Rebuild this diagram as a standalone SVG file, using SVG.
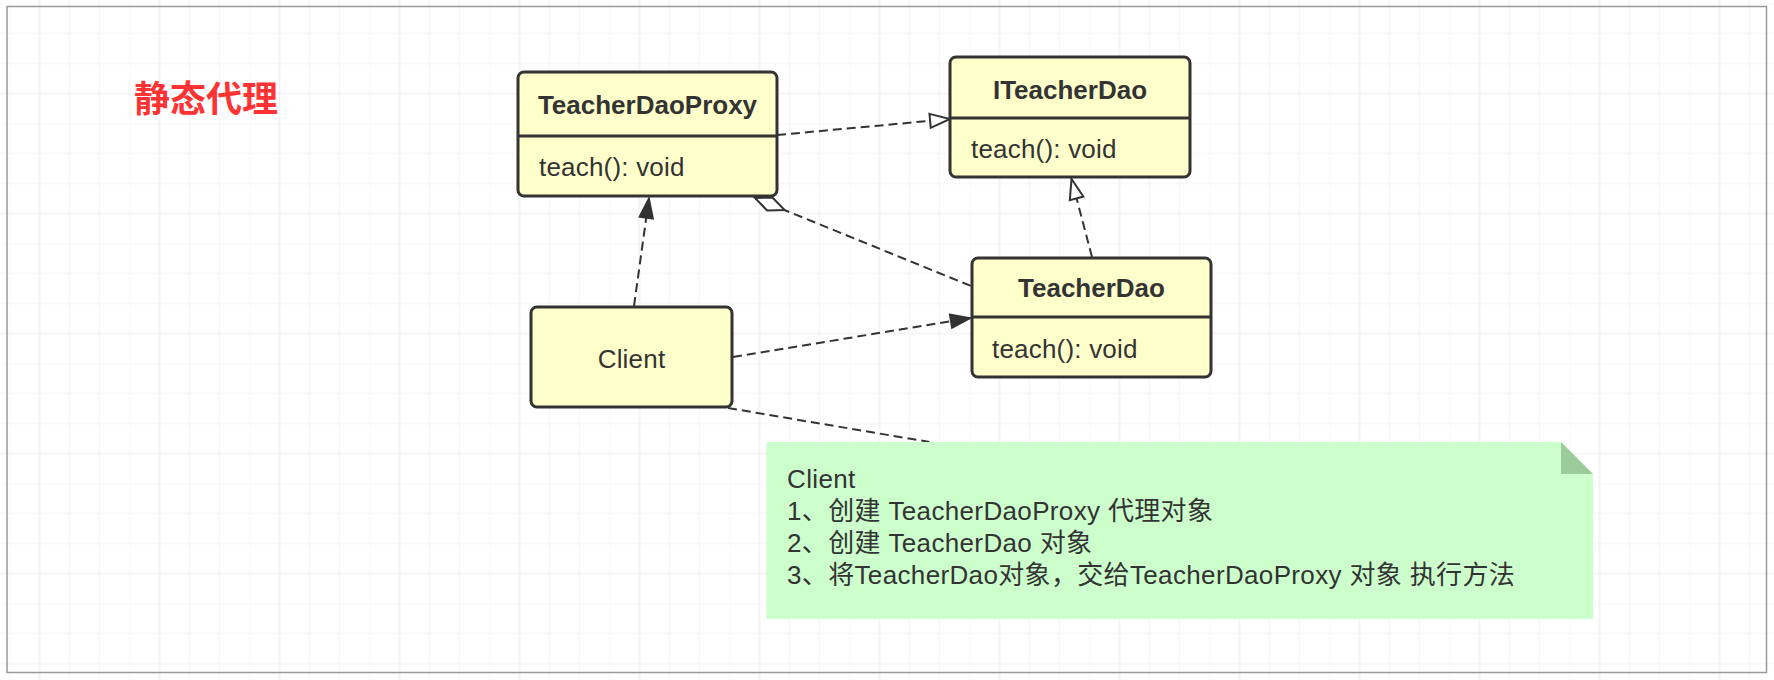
<svg xmlns="http://www.w3.org/2000/svg" width="1774" height="680" viewBox="0 0 1774 680">
  <style>
    .node { fill: #ffffcc; stroke: #333333; stroke-width: 3; }
    .div { stroke: #333333; stroke-width: 3; fill: none; }
    .title { font-family: "Liberation Sans", Arial, "Noto Sans CJK SC", sans-serif; font-size: 26px; font-weight: bold; fill: #333333; text-anchor: middle; }
    .body { font-family: "Liberation Sans", Arial, "Noto Sans CJK SC", sans-serif; font-size: 26px; fill: #333333; letter-spacing: 0.2px; }
    .edge { fill: none; stroke: #333333; stroke-width: 2; stroke-dasharray: 9 5; }
    .note-text { font-family: "Liberation Sans", Arial, "Noto Sans CJK SC", sans-serif; font-size: 26px; fill: #333333; letter-spacing: 0.35px; }
  </style>
  <defs>
    <pattern id="grid" patternUnits="userSpaceOnUse" x="9.5" y="3.5" width="120" height="120">
      <path d="M0,0 V120 M60,0 V120 M90,0 V120 M0,0 H120 M0,30 H120 M0,60 H120" stroke="#f4f4f4" stroke-width="1.2" fill="none"/>
      <path d="M30,0 V120 M0,90 H120" stroke="#ececec" stroke-width="1.2" fill="none"/>
    </pattern>
    <marker id="openTri" markerUnits="userSpaceOnUse" viewBox="-2 -2 24 18" refX="20" refY="7" markerWidth="24" markerHeight="18" orient="auto" overflow="visible">
      <path d="M0,0 L20,7 L0,14 Z" fill="#ffffff" stroke="#333333" stroke-width="2" stroke-linejoin="miter"/>
    </marker>
    <marker id="fillTri" markerUnits="userSpaceOnUse" viewBox="-2 -2 24 18" refX="20" refY="7" markerWidth="24" markerHeight="18" orient="auto" overflow="visible">
      <path d="M0,0 L20,7 L0,14 Z" fill="#333333" stroke="#333333" stroke-width="1.5"/>
    </marker>
    <marker id="diamond" markerUnits="userSpaceOnUse" viewBox="-2 -2 36 18" refX="0" refY="7" markerWidth="36" markerHeight="18" orient="auto" overflow="visible">
      <path d="M0,7 L16,0 L32,7 L16,14 Z" fill="#ffffff" stroke="#333333" stroke-width="2"/>
    </marker>
  </defs>

  <rect x="0" y="0" width="1774" height="680" fill="#ffffff"/>
  <rect x="0" y="0" width="1774" height="680" fill="url(#grid)"/>
  <rect x="7" y="6.5" width="1759.5" height="666" fill="none" stroke="#999999" stroke-width="1.5"/>

  <g id="title">
    <text x="134" y="112" font-family="'Noto Sans CJK SC', sans-serif" font-size="36" font-weight="bold" fill="#ff3333">静态代理</text>
  </g>

  <g id="connectors">
    <path class="edge" d="M777,135 L950,119" marker-end="url(#openTri)"/>
    <path class="edge" d="M1092,257 L1071.5,179" marker-end="url(#openTri)"/>
    <path class="edge" d="M634,306 L649,198" marker-end="url(#fillTri)"/>
    <path class="edge" d="M733,357 L970.5,318" marker-end="url(#fillTri)"/>
    <path class="edge" d="M755,198 L971,286" marker-start="url(#diamond)"/>
    <path class="edge" d="M728,408 L929.5,442"/>
  </g>

  <g id="TeacherDaoProxy">
    <rect class="node" x="518" y="72" width="259" height="124" rx="6"/>
    <line class="div" x1="518" y1="136" x2="777" y2="136"/>
    <text class="title" x="647.5" y="114">TeacherDaoProxy</text>
    <text class="body" x="539" y="176">teach(): void</text>
  </g>

  <g id="ITeacherDao">
    <rect class="node" x="950" y="57" width="240" height="120" rx="6"/>
    <line class="div" x1="950" y1="118" x2="1190" y2="118"/>
    <text class="title" x="1070" y="99">ITeacherDao</text>
    <text class="body" x="971" y="158">teach(): void</text>
  </g>

  <g id="TeacherDao">
    <rect class="node" x="972" y="258" width="239" height="119" rx="6"/>
    <line class="div" x1="972" y1="317" x2="1211" y2="317"/>
    <text class="title" x="1091.5" y="297">TeacherDao</text>
    <text class="body" x="992" y="358">teach(): void</text>
  </g>

  <g id="Client">
    <rect class="node" x="531" y="307" width="201" height="100" rx="6"/>
    <text class="body" x="631.5" y="368" text-anchor="middle">Client</text>
  </g>

  <g id="note">
    <path d="M766.5,442 H1561 L1593,474 V619 H766.5 Z" fill="#ccffcc"/>
    <path d="M1561,442 L1593,474 H1561 Z" fill="#9ccc9c"/>
    <text class="note-text" x="787" y="488">Client</text>
    <text class="note-text" x="787" y="520">1、创建 TeacherDaoProxy 代理对象</text>
    <text class="note-text" x="787" y="552">2、创建 TeacherDao 对象</text>
    <text class="note-text" x="787" y="584">3、将TeacherDao对象，交给TeacherDaoProxy 对象 执行方法</text>
  </g>
</svg>
